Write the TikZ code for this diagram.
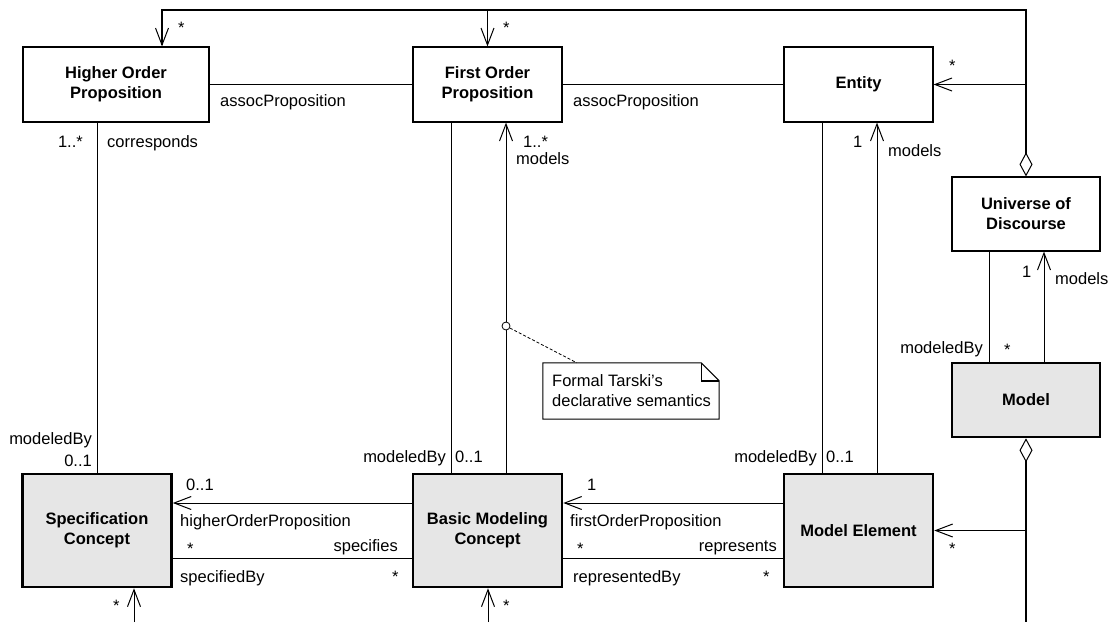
\documentclass[tikz,border=0pt]{standalone}
\usepackage{fontspec}
\setmainfont{Liberation Sans}
\usetikzlibrary{arrows.meta,calc}
\definecolor{boxgray}{RGB}{230,230,230}
\tikzset{
  topbox/.style={draw, line width=1.2pt, fill=white, minimum width=149pt, minimum height=75pt, align=center, inner sep=0pt, font=\fontsize{16.5}{20}\selectfont\bfseries},
  botbox/.style={draw, line width=2.6pt, fill=boxgray, minimum width=149pt, minimum height=113pt, align=center, inner sep=0pt, font=\fontsize{16.5}{20}\selectfont\bfseries},
  lbl/.style={inner sep=0pt, font=\fontsize{16.5}{20}\selectfont},
  conn/.style={line width=1pt},
  barb/.style={conn, -{Straight Barb[length=17pt,width=13pt,line width=1pt]}},
  agg/.style={line width=1.6pt, {Diamond[open,length=24pt,width=13pt,line width=1pt]}-{Straight Barb[length=17pt,width=13pt,line width=1pt]}},
  aggonly/.style={line width=1.6pt, {Diamond[open,length=24pt,width=13pt,line width=1pt]}-}
}
\begin{document}
\begin{tikzpicture}[x=1pt,y=-1pt]
\useasboundingbox (0,0) rectangle (1112,622);
% classes
\node[topbox, minimum width=186pt] (hop) at (116,84.5) {Higher Order\\Proposition};
\node[topbox] (fop) at (487.5,84.5) {First Order\\Proposition};
\node[topbox] (ent) at (858.5,84.5) {Entity};
\node[topbox, minimum width=148pt, minimum height=74pt] (univ) at (1026,214) {Universe of\\Discourse};
\node[botbox, minimum width=148pt, minimum height=74pt] (model) at (1026,400) {Model};
\node[botbox] (spec) at (97,530.5) {Specification\\Concept};
\node[botbox] (bmc) at (487.5,530.5) {Basic Modeling\\Concept};
\node[botbox] (me) at (858.5,530.5) {Model Element};
% helper coordinates
\coordinate (tl) at (162,10);
\coordinate (tr) at (1026,10);
\coordinate (bot) at (1026,622);
\coordinate (sbot) at (134,622);
\coordinate (bbot) at (488,622);
% horizontal associations top
\draw[conn] (hop.east |- fop.west) -- (fop.west);
\draw[conn] (fop.east) -- (ent.west);
% aggregation from Universe of Discourse
\draw[agg] (univ.north) -- (tr) -- (tl) -- (tl |- hop.north);
\draw[barb] (fop.north |- tl) -- (fop.north);
\draw[barb] (univ.north |- ent.east) -- (ent.east);
% aggregation from Model
\draw[aggonly] (model.south) -- (bot);
\draw[barb] (model.south |- me.east) -- (me.east);
% vertical associations
\draw[conn] (spec.north |- hop.south) -- (spec.north);
\draw[conn] ([xshift=-36.5pt]bmc.north) -- ([xshift=-36.5pt]bmc.north |- fop.south);
\draw[barb] ([xshift=18.5pt]bmc.north) -- ([xshift=18.5pt]bmc.north |- fop.south);
\draw[conn] ([xshift=-36.5pt]me.north) -- ([xshift=-36.5pt]me.north |- ent.south);
\draw[barb] ([xshift=18.5pt]me.north) -- ([xshift=18.5pt]me.north |- ent.south);
\draw[conn] ([xshift=-37pt]model.north) -- ([xshift=-37pt]model.north |- univ.south);
\draw[barb] ([xshift=18pt]model.north) -- ([xshift=18pt]model.north |- univ.south);
% horizontal associations bottom (canvas yshift: positive = up)
\draw[barb] ([yshift=27.5pt]bmc.west) -- ([yshift=27.5pt]bmc.west -| spec.east);
\draw[conn] ([yshift=-27.5pt]spec.east) -- ([yshift=-27.5pt]spec.east -| bmc.west);
\draw[barb] ([yshift=27.5pt]me.west) -- ([yshift=27.5pt]me.west -| bmc.east);
\draw[conn] ([yshift=-27.5pt]bmc.east) -- ([yshift=-27.5pt]bmc.east -| me.west);
% incoming from below
\draw[barb] (sbot) -- (sbot |- spec.south);
\draw[barb] (bbot) -- (bbot |- bmc.south);
% note
\node[circle, draw, line width=0.8pt, fill=white, inner sep=0pt, minimum size=8pt] (nc) at (506,326) {};
\node[minimum width=176pt, minimum height=56pt, inner sep=0pt] (note) at (631,391) {};
\coordinate (nfold) at ($(note.north east)+(-18,0)$);
\coordinate (nfold2) at ($(note.north east)+(0,18)$);
\draw[line width=1pt, fill=white] (note.north west) -- (nfold) -- (nfold2) -- (note.south east) -- (note.south west) -- cycle;
\draw[line width=1.4pt] (nfold) -- (nfold |- nfold2) -- (nfold2);
\draw[line width=0.8pt, dashed, dash pattern=on 3pt off 2pt] (nc) -- ($(note.north west)+(34,0)$);
\node[lbl, anchor=base west] (nt1) at (552,386) {Formal Tarski's};
\node[lbl, anchor=base west] (nt2) at (552,406) {declarative semantics};
% labels
\node[lbl, anchor=base west] (a1) at (220,106) {assocProposition};
\node[lbl, anchor=base west] (a2) at (573,106) {assocProposition};
\node[lbl, anchor=base west] (s1) at (178,33) {*};
\node[lbl, anchor=base west] (s2) at (503,33) {*};
\node[lbl, anchor=base west] (s3) at (949,71) {*};
\node[lbl, anchor=base east] (m1) at (83,147) {1..*};
\node[lbl, anchor=base west] (c1) at (107,147) {corresponds};
\node[lbl, anchor=base west] (m2) at (523,147) {1..*};
\node[lbl, anchor=base west] (md1) at (516,164) {models};
\node[lbl, anchor=base west] (o1) at (853,147) {1};
\node[lbl, anchor=base west] (md2) at (888,156) {models};
\node[lbl, anchor=base west] (o2) at (1022,277) {1};
\node[lbl, anchor=base west] (md3) at (1055,284) {models};
\node[lbl, anchor=base east] (mb1) at (983,353) {modeledBy};
\node[lbl, anchor=base west] (s4) at (1004,355) {*};
\node[lbl, anchor=base east] (mb2) at (92,444) {modeledBy};
\node[lbl, anchor=base east] (z1) at (92,466) {0..1};
\node[lbl, anchor=base east] (mb3) at (446,462) {modeledBy};
\node[lbl, anchor=base west] (z2) at (455,462) {0..1};
\node[lbl, anchor=base east] (mb4) at (817,462) {modeledBy};
\node[lbl, anchor=base west] (z3) at (826,462) {0..1};
\node[lbl, anchor=base west] (z4) at (186,490) {0..1};
\node[lbl, anchor=base west] (h1) at (180,526) {higherOrderProposition};
\node[lbl, anchor=base west] (s5) at (187,554) {*};
\node[lbl, anchor=base east] (sp) at (398,551) {specifies};
\node[lbl, anchor=base west] (sby) at (180,582) {specifiedBy};
\node[lbl, anchor=base west] (s6) at (392,582) {*};
\node[lbl, anchor=base west] (s7) at (113,611) {*};
\node[lbl, anchor=base west] (one) at (587,490) {1};
\node[lbl, anchor=base west] (f1) at (570,526) {firstOrderProposition};
\node[lbl, anchor=base west] (s8) at (577,554) {*};
\node[lbl, anchor=base east] (rp) at (777,551) {represents};
\node[lbl, anchor=base west] (rb) at (573,582) {representedBy};
\node[lbl, anchor=base west] (s9) at (763,582) {*};
\node[lbl, anchor=base west] (s10) at (503,611) {*};
\node[lbl, anchor=base west] (s11) at (949,554) {*};
\end{tikzpicture}
\end{document}
